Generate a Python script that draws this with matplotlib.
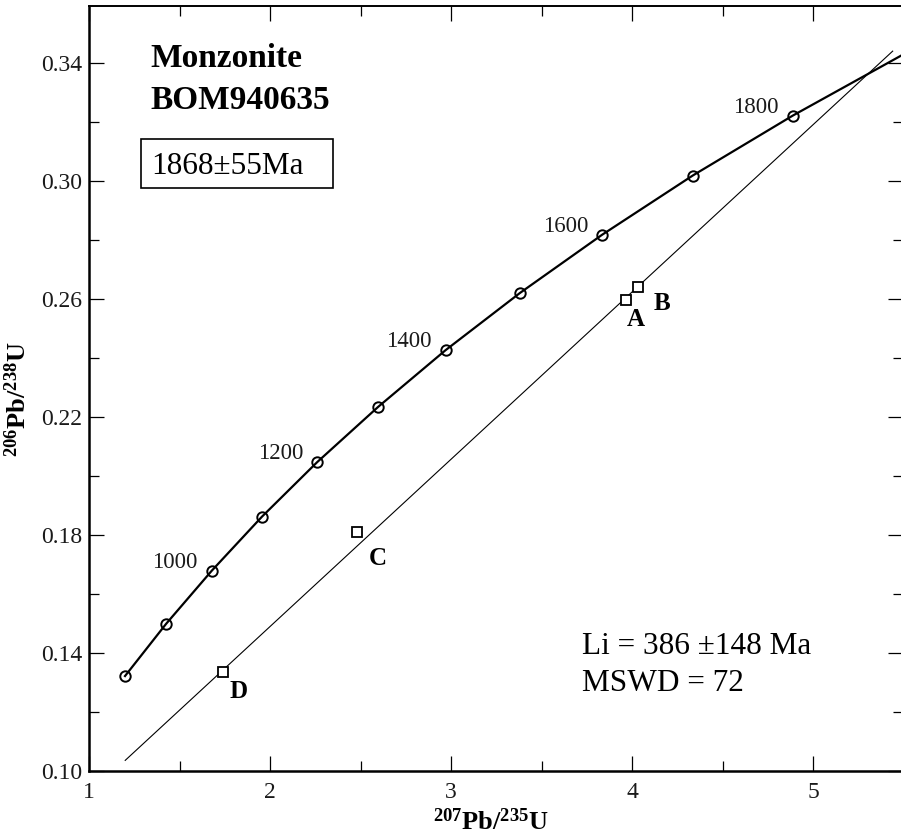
import matplotlib
matplotlib.use("Agg")
import matplotlib.pyplot as plt
from matplotlib.patches import Rectangle
from matplotlib.ticker import MultipleLocator

plt.rcParams['font.family'] = ['Liberation Serif', 'DejaVu Serif']
plt.rcParams['mathtext.fontset'] = 'custom'
plt.rcParams['mathtext.rm'] = 'Liberation Serif'
plt.rcParams['mathtext.bf'] = 'Liberation Serif:bold'

# Concordia points (ages in Ma)
conc_ages = [800, 900, 1000, 1100, 1200, 1300, 1400, 1500, 1600, 1700, 1800, 1900]
conc_x = [1.199, 1.426, 1.678, 1.955, 2.260, 2.598, 2.970, 3.381, 3.834, 4.335, 4.887, 5.496]
conc_y = [0.1321, 0.1498, 0.1678, 0.1861, 0.2046, 0.2234, 0.2426, 0.2620, 0.2817, 0.3018, 0.3221, 0.3428]
marked_ages = [800, 900, 1000, 1100, 1200, 1300, 1400, 1500, 1600, 1700, 1800]
labelled_ages = [1000, 1200, 1400, 1600, 1800]

# Discordia line ends
disc_x = [1.20, 5.44]
disc_y = [0.1035, 0.3440]

# Analyses
pt_names = ['A', 'B', 'C', 'D']
pt_x = [3.967, 4.031, 2.482, 1.739]
pt_y = [0.2596, 0.2641, 0.1808, 0.1334]

W, H = 901, 836
fig = plt.figure(figsize=(W / 100, H / 100), dpi=100)
ax = fig.add_axes([89 / W, (H - 770.7) / H, (903 - 89) / W, (770.7 - 6) / H])

ax.set_xlim(1, 5.497)
ax.set_ylim(0.10, 0.3593)

ax.plot(disc_x, disc_y, color='black', lw=0.8, zorder=2)
ax.plot(conc_x, conc_y, color='black', lw=1.6, zorder=3)
mx = [x for a, x in zip(conc_ages, conc_x) if a in marked_ages]
my = [y for a, y in zip(conc_ages, conc_y) if a in marked_ages]
ax.plot(mx, my, linestyle='none', marker='o', ms=7.5, mfc='none', mec='black', mew=1.4, zorder=4)

for a, x, y in zip(conc_ages, conc_x, conc_y):
    if a in labelled_ages:
        ax.annotate(str(a), (x, y), xytext=(-10, 6), textcoords='offset points',
                    ha='right', va='center', fontsize=16.5, color='#1a1a1a')

ax.plot(pt_x, pt_y, linestyle='none', marker='s', ms=7.5, mfc='white', mec='black', mew=1.3, zorder=5)

# point labels (pixel positions: left, baseline)
lab_pos = {'A': (627, 326), 'B': (654, 310), 'C': (369, 565), 'D': (230, 698)}
for n in pt_names:
    px, py = lab_pos[n]
    fig.text(px / W, 1 - py / H, n, fontsize=18, fontweight='bold', ha='left', va='baseline')

fig.text(150 / W, 1 - 67 / H, 'Monzonite', fontsize=24, fontweight='bold', ha='left', va='baseline')
fig.text(150 / W, 1 - 109 / H, 'BOM940635', fontsize=24, fontweight='bold', ha='left', va='baseline')
fig.text(151 / W, 1 - 174 / H, '1868±55Ma', fontsize=22.5, ha='left', va='baseline')
fig.patches.append(Rectangle((141 / W, 1 - 188 / H), (333 - 141) / W, (188 - 139) / H,
                             transform=fig.transFigure, fill=False, ec='black', lw=1.2))

fig.text(582 / W, 1 - 654 / H, 'Li = 386 ±148 Ma', fontsize=22.5, ha='left', va='baseline')
fig.text(582 / W, 1 - 691 / H, 'MSWD = 72', fontsize=22.5, ha='left', va='baseline')

fig.text(491 / W, 1 - 822 / H, r'$\mathbf{{}^{207}Pb/{}^{235}U}$', fontsize=19, ha='center', va='center')
fig.text(18 / W, 1 - 399 / H, r'$\mathbf{{}^{206}Pb/{}^{238}U}$', fontsize=19, ha='center', va='center', rotation=90)

ax.xaxis.set_major_locator(MultipleLocator(1))
ax.xaxis.set_minor_locator(MultipleLocator(0.5))
ax.yaxis.set_major_locator(MultipleLocator(0.04))
ax.yaxis.set_minor_locator(MultipleLocator(0.02))
ax.set_xticks([1, 2, 3, 4, 5])
ax.set_xticklabels(['1', '2', '3', '4', '5'])
yt = [0.10, 0.14, 0.18, 0.22, 0.26, 0.30, 0.34]
ax.set_yticks(yt)
ax.set_yticklabels([f'{v:.2f}' for v in yt])

ax.tick_params(which='both', direction='in', top=True, right=True, width=0.9,
               labelsize=17, labelcolor='#1a1a1a')
ax.tick_params(which='major', length=11)
ax.tick_params(which='minor', length=7)
ax.tick_params(axis='x', which='major', pad=8)
ax.tick_params(axis='y', which='major', pad=5)

for s in ['left', 'bottom']:
    ax.spines[s].set_linewidth(1.8)
ax.spines['top'].set_linewidth(1.4)
ax.spines['right'].set_visible(False)

fig.savefig('out.png', dpi=100)
